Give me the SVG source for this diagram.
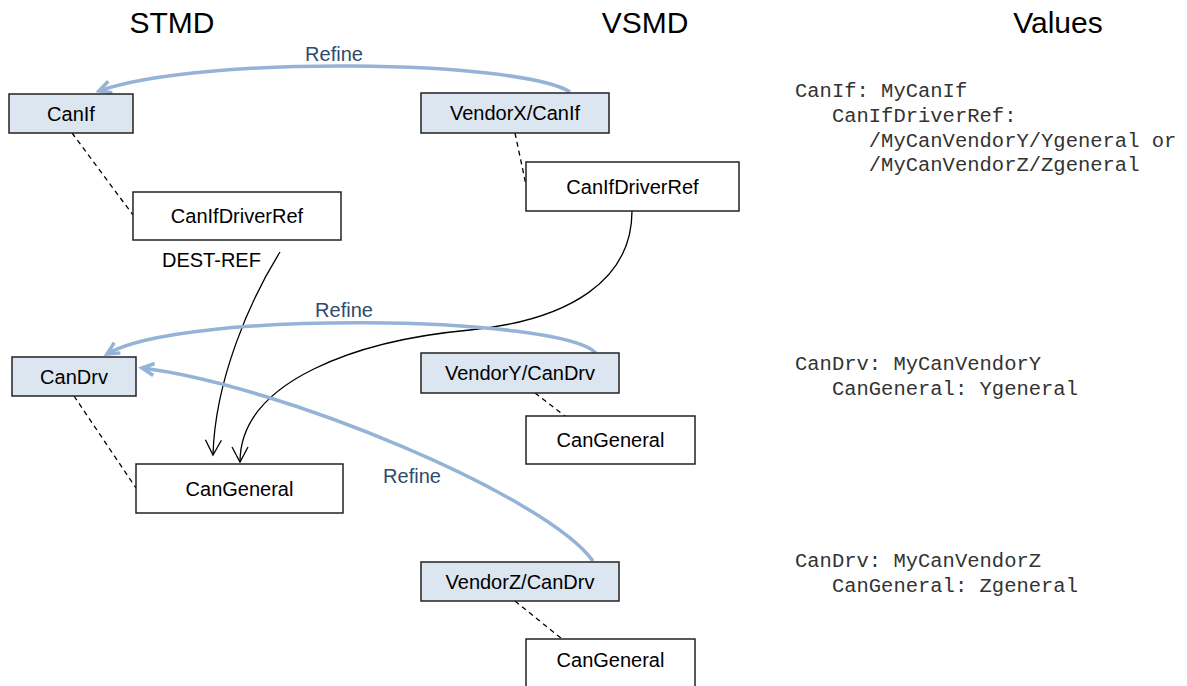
<svg xmlns="http://www.w3.org/2000/svg" width="1187" height="686" viewBox="0 0 1187 686">
<style>
.title{font-family:"Liberation Sans",Arial,sans-serif;font-size:30px;fill:#000;text-anchor:middle}
.node rect{stroke:#222;stroke-width:1.5}
.hd rect{fill:#DCE6F1}
.pl rect{fill:#fff}
.node text{font-family:"Liberation Sans",Arial,sans-serif;font-size:20px;fill:#000;text-anchor:middle}
.dash{stroke:#000;stroke-width:1.3;stroke-dasharray:5,4;fill:none}
.ref{stroke:#000;stroke-width:1.3;fill:none;marker-end:url(#openBlack)}
.refine{stroke:#95B3D7;stroke-width:3.5;fill:none;marker-end:url(#openBlue)}
.rlabel{font-family:"Liberation Sans",Arial,sans-serif;font-size:20px;fill:#2E4A6E;text-anchor:middle}
.lbl{font-family:"Liberation Sans",Arial,sans-serif;font-size:20px;fill:#000}
.val{font-family:"Liberation Mono","Courier New",monospace;font-size:20.5px;fill:#333;white-space:pre}
</style>
<defs>
<marker id="openBlack" markerUnits="userSpaceOnUse" markerWidth="30" markerHeight="30" refX="0" refY="0" viewBox="-20 -15 30 30" orient="auto">
<path d="M-15,-8 L0,0 L-15,8" fill="none" stroke="#000" stroke-width="1.3"/>
</marker>
<marker id="openBlue" markerUnits="userSpaceOnUse" markerWidth="30" markerHeight="30" refX="0" refY="0" viewBox="-20 -15 30 30" orient="auto">
<path d="M-12,-6 L0,0 L-12,6" fill="none" stroke="#95B3D7" stroke-width="3.5"/>
</marker>
</defs>
<rect width="1187" height="686" fill="#fff"/>
<text class="title" x="172" y="33">STMD</text>
<text class="title" x="645" y="33">VSMD</text>
<text class="title" x="1058" y="33">Values</text>

<g id="connectors">
<path class="dash" d="M72,133 L133,215"/>
<path class="dash" d="M515,133 L526,185"/>
<path class="dash" d="M74,396 L136,488"/>
<path class="dash" d="M535,393 L565,416"/>
<path class="dash" d="M515,601 L562,639"/>
<path class="ref" d="M280,252 C250,300 215,380 213,455"/>
<path class="ref" d="M632,211 C632,280 570,320 470,330 C360,340 240,380 240,462"/>
<path class="refine" d="M570,92 C520,60 200,55 99,91"/>
<path class="refine" d="M596,353 C560,315 180,310 107,354"/>
<path class="refine" d="M593,561 C545,495 280,385 142,368"/>
<text class="rlabel" x="334" y="61">Refine</text>
<text class="rlabel" x="344" y="317">Refine</text>
<text class="rlabel" x="412" y="483">Refine</text>
<text class="lbl" x="162" y="267">DEST-REF</text>
</g>

<g id="n-canif" class="node hd"><rect x="9" y="94" width="124" height="39"/><text x="71" y="120.5">CanIf</text></g>
<g id="n-canifdriverref" class="node pl"><rect x="133" y="192" width="208" height="48"/><text x="237" y="223">CanIfDriverRef</text></g>
<g id="n-vendorx-canif" class="node hd"><rect x="421" y="93" width="188" height="40"/><text x="515" y="120">VendorX/CanIf</text></g>
<g id="n-vx-canifdriverref" class="node pl"><rect x="526" y="162" width="213" height="49"/><text x="632.5" y="193.5">CanIfDriverRef</text></g>
<g id="n-candrv" class="node hd"><rect x="12" y="357" width="124" height="39"/><text x="74" y="383.5">CanDrv</text></g>
<g id="n-cangeneral" class="node pl"><rect x="136" y="464" width="207" height="49"/><text x="239.5" y="495.5">CanGeneral</text></g>
<g id="n-vendory-candrv" class="node hd"><rect x="421" y="353" width="198" height="40"/><text x="520" y="380">VendorY/CanDrv</text></g>
<g id="n-vy-cangeneral" class="node pl"><rect x="526" y="416" width="169" height="48"/><text x="610.5" y="447">CanGeneral</text></g>
<g id="n-vendorz-candrv" class="node hd"><rect x="421" y="562" width="198" height="39"/><text x="520" y="588.5">VendorZ/CanDrv</text></g>
<g id="n-vz-cangeneral" class="node pl"><rect x="526" y="639" width="169" height="50"/><text x="610.5" y="667">CanGeneral</text></g>

<g id="values">
<text class="val" x="795" y="97">CanIf: MyCanIf</text>
<text class="val" x="795" y="122">   CanIfDriverRef:</text>
<text class="val" x="795" y="147">      /MyCanVendorY/Ygeneral or</text>
<text class="val" x="795" y="171">      /MyCanVendorZ/Zgeneral</text>
<text class="val" x="795" y="370">CanDrv: MyCanVendorY</text>
<text class="val" x="795" y="395">   CanGeneral: Ygeneral</text>
<text class="val" x="795" y="567">CanDrv: MyCanVendorZ</text>
<text class="val" x="795" y="592">   CanGeneral: Zgeneral</text>
</g>
</svg>
